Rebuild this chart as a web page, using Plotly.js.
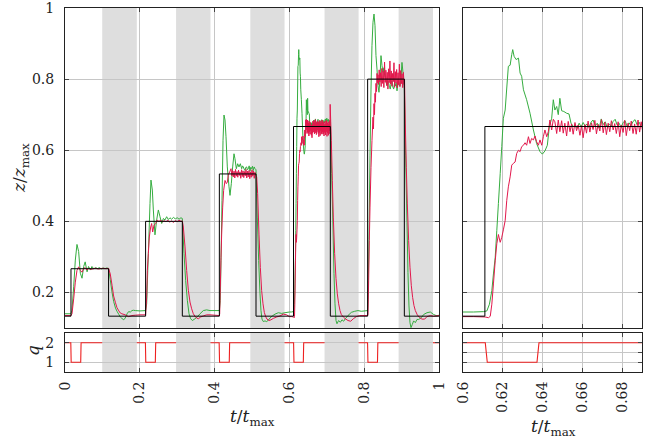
<!DOCTYPE html>
<html><head><meta charset="utf-8">
<script src="https://cdn.plot.ly/plotly-3.0.1.min.js"></script>
<style>html,body{margin:0;padding:0;background:#fff;} #chart{width:654px;height:441px;}</style>
</head><body><div id="chart"></div>
<script>
// ---- data: [t/tmax, z/zmax] ----
const greenPts = [
[0,0.14],[0.016,0.14],[0.0187,0.15],[0.0232,0.216],[0.0276,0.291],[0.032,0.335],[0.0365,0.315],[0.041,0.254],[0.0455,0.24],[0.05,0.273],[0.054,0.286],[0.059,0.258],[0.063,0.273],[0.068,0.263],[0.072,0.273],[0.077,0.266],[0.082,0.27],[0.087,0.267],[0.092,0.27],[0.097,0.266],[0.102,0.269],[0.107,0.267],[0.112,0.269],[0.1165,0.267],
[0.121,0.236],[0.126,0.199],[0.13,0.175],[0.135,0.156],[0.139,0.147],[0.144,0.138],[0.148,0.131],[0.152,0.127],[0.157,0.123],[0.161,0.128],[0.166,0.14],[0.17,0.146],[0.175,0.145],[0.179,0.149],[0.183,0.15],[0.188,0.149],[0.2005,0.148],[0.2155,0.149],
[0.2184,0.168],[0.2228,0.309],[0.2273,0.45],[0.2299,0.516],[0.2335,0.488],[0.2362,0.432],[0.2406,0.362],[0.2451,0.404],[0.2496,0.432],[0.254,0.413],[0.2585,0.394],[0.263,0.408],[0.2674,0.404],[0.2718,0.413],[0.2763,0.405],[0.2807,0.41],[0.285,0.406],[0.29,0.411],[0.295,0.407],[0.3,0.41],[0.305,0.406],[0.31,0.41],[0.3137,0.408],
[0.3182,0.309],[0.3226,0.234],[0.3271,0.178],[0.3316,0.14],[0.336,0.126],[0.3405,0.121],[0.3476,0.126],[0.3538,0.131],[0.361,0.14],[0.3699,0.149],[0.3788,0.151],[0.3877,0.149],[0.4127,0.149],
[0.4153,0.177],[0.4171,0.29],[0.4198,0.459],[0.4225,0.628],[0.4251,0.699],[0.4278,0.685],[0.4305,0.638],[0.434,0.553],[0.4385,0.497],[0.4412,0.473],[0.4447,0.506],[0.4483,0.553],[0.4519,0.59],[0.4545,0.576],[0.4581,0.548],[0.4617,0.562],[0.4652,0.553],[0.4688,0.562],[0.4724,0.548],[0.4746,0.556],[0.4768,0.553],[0.479,0.547],[0.4813,0.543],[0.4835,0.552],[0.4857,0.553],[0.488,0.545],[0.4902,0.548],[0.4924,0.556],[0.4946,0.541],[0.4968,0.552],[0.4991,0.548],[0.5013,0.555],[0.5035,0.543],[0.5058,0.553],[0.508,0.548],[0.5107,0.545],
[0.5142,0.412],[0.5178,0.29],[0.5214,0.196],[0.524,0.149],[0.5267,0.125],[0.5303,0.118],[0.5347,0.12],[0.5392,0.118],[0.5436,0.122],[0.5481,0.128],[0.5543,0.134],[0.5615,0.139],[0.5704,0.143],[0.5793,0.141],[0.5882,0.143],[0.6,0.145],
[0.6053,0.145],[0.6103,0.146],[0.612,0.148],[0.6133,0.167],[0.6145,0.205],[0.6153,0.252],[0.6162,0.299],[0.617,0.374],[0.6178,0.45],[0.6187,0.534],[0.6195,0.61],[0.6203,0.69],[0.6212,0.713],[0.622,0.775],[0.6228,0.836],[0.6237,0.839],[0.6245,0.869],[0.625,0.883],[0.6257,0.864],[0.6267,0.855],[0.6279,0.859],[0.6287,0.817],[0.6295,0.808],[0.6304,0.77],[0.632,0.742],[0.6337,0.704],[0.6354,0.657],[0.637,0.619],[0.6387,0.596],[0.6399,0.589],[0.6412,0.598],[0.6424,0.614],[0.6434,0.666],[0.6446,0.69],[0.6454,0.742],[0.6462,0.713],[0.6471,0.723],[0.6479,0.70],[0.6487,0.746],[0.6496,0.711],[0.6507,0.709],[0.6521,0.704],[0.6533,0.702],[0.6543,0.676],[0.6554,0.666],
[0.6564,0.672],[0.6574,0.662],[0.6584,0.676],[0.6594,0.665],[0.6604,0.678],[0.6614,0.668],[0.6624,0.674],[0.6634,0.664],[0.6644,0.679],[0.6654,0.685],[0.6665,0.668],[0.6675,0.676],[0.6685,0.662],[0.6695,0.688],[0.6705,0.672],[0.6715,0.68],[0.6725,0.665],[0.6735,0.674],[0.6745,0.668],[0.6755,0.681],[0.6765,0.687],[0.6775,0.671],[0.6785,0.676],[0.6795,0.664],[0.6805,0.678],[0.6815,0.683],[0.6825,0.667],[0.6835,0.677],[0.6845,0.669],[0.6855,0.681],[0.6865,0.686],[0.6875,0.672],[0.6885,0.679],[0.6897,0.666],
[0.692,0.684],[0.694,0.676],[0.696,0.688],[0.698,0.679],[0.7,0.69],[0.702,0.681],[0.704,0.687],[0.706,0.676],[0.708,0.684],[0.7094,0.685],
[0.713,0.534],[0.7165,0.384],[0.7192,0.253],[0.7219,0.168],[0.7246,0.121],[0.7272,0.112],[0.7317,0.121],[0.7362,0.116],[0.7406,0.123],[0.7451,0.119],[0.7495,0.126],[0.7566,0.135],[0.7656,0.144],[0.7745,0.147],[0.7834,0.149],[0.7923,0.147],[0.8092,0.149],
[0.8101,0.18],[0.8128,0.349],[0.8155,0.584],[0.8182,0.772],[0.8208,0.894],[0.8235,0.96],[0.8262,0.983],[0.8289,0.95],[0.8315,0.866],[0.8342,0.828],[0.8369,0.781],[0.8395,0.763],[0.8422,0.80],[0.8449,0.866],[0.8476,0.838],[0.8502,0.819],[0.8529,0.832],[0.8547,0.81],[0.8565,0.805],[0.8588,0.79],[0.861,0.781],[0.8632,0.795],[0.8654,0.79],[0.8676,0.776],[0.8699,0.772],[0.872,0.79],[0.8743,0.795],[0.8765,0.778],[0.8788,0.772],[0.881,0.788],[0.8832,0.781],[0.8855,0.79],[0.8877,0.767],[0.89,0.785],[0.8921,0.795],[0.8944,0.78],[0.8966,0.786],[0.8988,0.81],[0.901,0.847],[0.9037,0.819],[0.9064,0.79],[0.9073,0.78],
[0.9108,0.584],[0.9144,0.396],[0.917,0.256],[0.9197,0.162],[0.9224,0.115],[0.9251,0.101],[0.9286,0.11],[0.9322,0.12],[0.9367,0.115],[0.9411,0.124],[0.9456,0.124],[0.9527,0.129],[0.959,0.138],[0.9679,0.143],[0.9768,0.145],[0.9857,0.138],[0.9946,0.134],[1,0.136]
];
const redPts = [
[0,0.135],[0.016,0.135],[0.0187,0.14],[0.0232,0.182],[0.0276,0.229],[0.032,0.262],[0.0365,0.272],[0.041,0.262],[0.0455,0.257],[0.05,0.267],[0.054,0.27],[0.059,0.263],[0.063,0.268],[0.07,0.265],[0.08,0.268],[0.09,0.266],[0.1,0.268],[0.11,0.267],[0.1165,0.268],
[0.121,0.252],[0.126,0.219],[0.13,0.19],[0.135,0.171],[0.139,0.157],[0.144,0.148],[0.148,0.142],[0.152,0.14],[0.161,0.137],[0.17,0.132],[0.179,0.135],[0.188,0.136],[0.2005,0.137],[0.2155,0.137],
[0.2184,0.187],[0.2202,0.262],[0.2228,0.309],[0.2255,0.356],[0.2291,0.384],[0.2317,0.394],[0.2344,0.37],[0.238,0.389],[0.2424,0.394],[0.2469,0.404],[0.2513,0.399],[0.2558,0.404],[0.26,0.398],[0.265,0.402],[0.27,0.399],[0.275,0.403],[0.28,0.398],[0.285,0.401],[0.29,0.397],[0.295,0.402],[0.3,0.399],[0.305,0.403],[0.31,0.4],[0.3137,0.401],
[0.3164,0.384],[0.3209,0.328],[0.3253,0.262],[0.3298,0.206],[0.3342,0.173],[0.3387,0.154],[0.3431,0.14],[0.3476,0.133],[0.352,0.128],[0.3565,0.126],[0.3627,0.131],[0.3699,0.134],[0.3788,0.137],[0.3877,0.137],[0.4127,0.135],
[0.4136,0.14],[0.4153,0.214],[0.4171,0.298],[0.4189,0.364],[0.4216,0.44],[0.4242,0.487],[0.4278,0.515],[0.4314,0.506],[0.434,0.51],[0.4367,0.53],[0.4403,0.539],[0.4439,0.548],
[0.446,0.528],[0.448,0.543],[0.45,0.525],[0.452,0.541],[0.454,0.522],[0.456,0.546],[0.458,0.527],[0.46,0.54],[0.462,0.524],[0.464,0.544],[0.466,0.529],[0.468,0.539],[0.47,0.521],[0.472,0.545],[0.474,0.526],[0.476,0.542],[0.478,0.523],[0.48,0.54],[0.482,0.528],[0.484,0.546],[0.486,0.522],[0.488,0.541],[0.49,0.525],[0.492,0.543],[0.494,0.52],[0.496,0.539],[0.498,0.524],[0.5,0.545],[0.502,0.527],[0.504,0.541],[0.506,0.521],[0.508,0.538],[0.5107,0.528],
[0.5125,0.525],[0.5151,0.478],[0.5187,0.364],[0.5223,0.27],[0.5258,0.205],[0.5294,0.168],[0.5329,0.144],[0.5365,0.132],[0.5401,0.125],[0.5454,0.121],[0.5508,0.123],[0.557,0.127],[0.5659,0.131],[0.5748,0.134],[0.5838,0.139],[0.5927,0.137],[0.6,0.132],
[0.6053,0.132],[0.6111,0.131],[0.6128,0.129],[0.6137,0.133],[0.6145,0.167],[0.6153,0.224],[0.6162,0.289],[0.617,0.337],[0.6178,0.363],[0.6187,0.341],[0.6195,0.355],[0.6203,0.376],[0.6212,0.402],[0.622,0.459],[0.6228,0.497],[0.6237,0.525],[0.6245,0.558],[0.6253,0.563],[0.6262,0.567],[0.627,0.591],[0.6279,0.6],[0.6287,0.596],[0.6295,0.61],[0.6304,0.614],[0.6312,0.621],[0.632,0.614],[0.6329,0.638],[0.6337,0.619],[0.6345,0.633],[0.6354,0.629],[0.6362,0.64],[0.637,0.624],[0.6379,0.614],[0.6387,0.629],[0.6396,0.614],[0.6404,0.638],[0.6412,0.657],[0.6421,0.638],[0.6429,0.652],[0.6437,0.685],[0.6446,0.657],[0.6454,0.687],[0.6462,0.68],[0.6471,0.647],[0.6479,0.685],[0.6487,0.652],
[0.6496,0.683],[0.6504,0.648],[0.6512,0.676],[0.6521,0.64],[0.6529,0.681],[0.6538,0.652],[0.6546,0.674],[0.6554,0.645],[0.6563,0.678],[0.6571,0.655],[0.6579,0.671],[0.6588,0.642],[0.6596,0.669],[0.6604,0.635],[0.6613,0.672],[0.6621,0.648],[0.6629,0.682],[0.6638,0.651],[0.6646,0.677],[0.6654,0.658],[0.6663,0.684],[0.6671,0.646],[0.6679,0.673],[0.6688,0.654],[0.6696,0.686],[0.6705,0.649],[0.6713,0.679],[0.6721,0.644],[0.673,0.676],[0.6738,0.652],[0.6746,0.683],[0.6755,0.657],[0.6763,0.675],[0.6771,0.647],[0.678,0.68],[0.6788,0.638],[0.6796,0.671],[0.6805,0.65],[0.6813,0.684],[0.6821,0.641],[0.683,0.676],[0.6838,0.655],[0.6846,0.682],[0.6855,0.647],[0.6863,0.674],[0.6871,0.645],[0.688,0.685],[0.6888,0.651],[0.6896,0.68],
[0.6905,0.646],[0.6915,0.678],[0.6925,0.64],[0.6935,0.673],[0.6945,0.65],[0.6955,0.682],[0.6965,0.643],[0.6975,0.675],[0.6985,0.652],[0.6995,0.684],[0.7005,0.639],[0.7015,0.677],[0.7025,0.648],[0.7035,0.68],[0.7045,0.642],[0.7055,0.674],[0.7065,0.655],[0.7075,0.683],[0.7085,0.646],[0.709,0.729],
[0.7105,0.68],[0.7121,0.627],[0.7148,0.515],[0.7174,0.412],[0.721,0.309],[0.7246,0.239],[0.7281,0.196],[0.7317,0.168],[0.7353,0.149],[0.7388,0.138],[0.7442,0.131],[0.7495,0.126],[0.7566,0.121],[0.7638,0.119],[0.7709,0.126],[0.7789,0.132],[0.7878,0.135],[0.8092,0.135],
[0.8101,0.138],[0.8119,0.233],[0.8137,0.346],[0.8155,0.44],[0.8182,0.552],[0.8208,0.627],[0.8235,0.693],[0.8248,0.66],[0.8262,0.731],[0.8275,0.70],[0.8289,0.76],[0.83,0.735],[0.8315,0.788],[0.833,0.765],[0.8342,0.816],[0.8355,0.79],[0.8369,0.812],
[0.8385,0.785],[0.84,0.826],[0.8418,0.792],[0.8436,0.818],[0.8454,0.779],[0.8472,0.83],[0.849,0.788],[0.8508,0.822],[0.8526,0.776],[0.8544,0.848],[0.8562,0.791],[0.858,0.825],[0.8598,0.783],[0.8616,0.819],[0.8634,0.772],[0.8652,0.829],[0.867,0.79],[0.8688,0.851],[0.8706,0.786],[0.8724,0.823],[0.8742,0.78],[0.876,0.816],[0.8778,0.793],[0.8796,0.846],[0.8814,0.777],[0.8832,0.821],[0.885,0.789],[0.8868,0.827],[0.8886,0.775],[0.8904,0.818],[0.8922,0.784],[0.894,0.842],[0.8958,0.779],[0.8976,0.824],[0.8994,0.787],[0.9012,0.815],[0.903,0.776],[0.9048,0.819],[0.9066,0.785],[0.9078,0.80],
[0.9099,0.674],[0.9126,0.552],[0.9153,0.449],[0.9188,0.346],[0.9224,0.271],[0.926,0.219],[0.9295,0.186],[0.9331,0.163],[0.9367,0.149],[0.942,0.137],[0.9474,0.13],[0.9545,0.125],[0.9616,0.125],[0.9679,0.132],[0.9768,0.135],[0.9857,0.133],[1,0.135]
];
// set-point (step reference)
const tSet = [0, 0.016, 0.1165, 0.2155, 0.3137, 0.4127, 0.5107, 0.611, 0.7094, 0.8092, 0.9073, 1];
const zSet = [0.1333, 0.2667, 0.1333, 0.4, 0.1333, 0.5333, 0.1333, 0.6667, 0.1333, 0.8, 0.1333, 0.1333];
// q signal (undefined inside the shaded intervals)
const tQ = [0,0.0155,0.0165,0.042,0.043,0.0995,0.15,0.192,0.215,0.216,0.2415,0.2425,0.297,0.34,0.389,0.4122,0.4132,0.4392,0.4402,0.4955,0.54,0.587,0.6112,0.6122,0.6372,0.6382,0.694,0.74,0.785,0.809,0.81,0.8355,0.8365,0.892,0.94,0.984,1];
const qVal = [2,2,1,1,2,2,null,2,2,1,1,2,2,null,2,2,1,1,2,2,null,2,2,1,1,2,2,null,2,2,1,1,2,2,null,2,2];
// shaded intervals
const bandStart = [0.0995, 0.297, 0.4955, 0.694, 0.892];
const bandEnd   = [0.192, 0.389, 0.587, 0.785, 0.984];
// ticks
const xTickMain = [0, 0.2, 0.4, 0.6, 0.8, 1];
const xTickMainText = ['0', '0.2', '0.4', '0.6', '0.8', '1'];
const xTickZoom = [0.6, 0.62, 0.64, 0.66, 0.68];
const xTickZoomText = ['0.6', '0.62', '0.64', '0.66', '0.68'];
const yTickMain = [0.2, 0.4, 0.6, 0.8, 1];
const yTickMainText = ['0.2', '0.4', '0.6', '0.8', '1'];

const tG = greenPts.map(p => p[0]), zG = greenPts.map(p => p[1]);
const tR = redPts.map(p => p[0]), zR = redPts.map(p => p[1]);

const GREEN = '#35ad3f', RED = '#e2184c', QRED = '#ee2020';
const FONT = 'DejaVu Serif';
const W = 654, H = 441;
const px = v => v / W, py = v => 1 - v / H;

const common = {
  showline: true, mirror: 'ticks', linecolor: '#222', linewidth: 1,
  ticks: 'inside', ticklen: 4, tickwidth: 1, tickcolor: '#444',
  showgrid: true, gridcolor: '#c6c6c6', gridwidth: 1, zeroline: false,
  tickfont: { family: FONT, size: 14, color: '#222' }, fixedrange: true, automargin: false,
  ticklabeloverflow: 'allow'
};
const xdL = [px(65), px(439)], xdR = [px(463), px(642)];
const ydT = [py(328), py(8)], ydB = [py(372), py(333)];

const traces = [];
function addSeries(xa, ya) {
  traces.push({ x: tG, y: zG, xaxis: xa, yaxis: ya, mode: 'lines', line: { color: GREEN, width: 1, simplify: false }, hoverinfo: 'skip' });
  traces.push({ x: tR, y: zR, xaxis: xa, yaxis: ya, mode: 'lines', line: { color: RED, width: 1, simplify: false }, hoverinfo: 'skip' });
  traces.push({ x: tSet, y: zSet, xaxis: xa, yaxis: ya, mode: 'lines', line: { color: '#000', width: 1, shape: 'hv' }, hoverinfo: 'skip' });
}
addSeries('x', 'y');
addSeries('x2', 'y2');
traces.push({ x: tQ, y: qVal, xaxis: 'x3', yaxis: 'y3', mode: 'lines', connectgaps: false, line: { color: QRED, width: 1.1 }, hoverinfo: 'skip' });
traces.push({ x: tQ, y: qVal, xaxis: 'x4', yaxis: 'y4', mode: 'lines', connectgaps: false, line: { color: QRED, width: 1.1 }, hoverinfo: 'skip' });

const shapes = [];
bandStart.forEach((s, i) => {
  ['y', 'y3'].forEach((ya, k) => {
    shapes.push({ type: 'rect', xref: k === 0 ? 'x' : 'x3', yref: ya + ' domain', x0: s, x1: bandEnd[i], y0: 0, y1: 1,
      fillcolor: '#dedede', line: { width: 0 }, layer: 'below' });
  });
});

const titleFont = { family: FONT, size: 17, color: '#222' };
const layout = {
  width: W, height: H, margin: { l: 0, r: 0, t: 0, b: 0 },
  paper_bgcolor: '#fff', plot_bgcolor: '#fff', showlegend: false,
  font: { family: FONT, size: 14, color: '#222' },
  xaxis: Object.assign({}, common, { domain: xdL, anchor: 'y', range: [0, 1], tickvals: xTickMain, showticklabels: false }),
  yaxis: Object.assign({}, common, { domain: ydT, anchor: 'x', range: [0.1, 1], tickvals: yTickMain, ticktext: yTickMainText, ticklabelstandoff: 7 }),
  xaxis2: Object.assign({}, common, { domain: xdR, anchor: 'y2', range: [0.6, 0.69], tickvals: xTickZoom, showticklabels: false }),
  yaxis2: Object.assign({}, common, { domain: ydT, anchor: 'x2', range: [0.1, 1], tickvals: yTickMain, showticklabels: false }),
  xaxis3: Object.assign({}, common, { domain: xdL, anchor: 'y3', range: [0, 1], tickvals: xTickMain, ticktext: xTickMainText, tickangle: -90, ticklabelstandoff: 3 }),
  yaxis3: Object.assign({}, common, { domain: ydB, anchor: 'x3', range: [0.5, 2.5], tickvals: [1, 2], ticktext: ['1', '2'], ticklabelstandoff: 7 }),
  xaxis4: Object.assign({}, common, { domain: xdR, anchor: 'y4', range: [0.6, 0.69], tickvals: xTickZoom, ticktext: xTickZoomText, tickangle: -90, ticklabelstandoff: 3 }),
  yaxis4: Object.assign({}, common, { domain: ydB, anchor: 'x4', range: [0.5, 2.5], tickvals: [1, 1.5, 2], showticklabels: false }),
  shapes: shapes,
  annotations: [
    { text: '<i>z</i>/<i>z</i><sub>max</sub>', xref: 'paper', yref: 'paper', x: px(20), y: py(168), textangle: -90, showarrow: false, font: titleFont, xanchor: 'center', yanchor: 'middle' },
    { text: '<i>q</i>', xref: 'paper', yref: 'paper', x: px(33), y: py(351), textangle: -90, showarrow: false, font: titleFont, xanchor: 'center', yanchor: 'middle' },
    { text: '<i>t</i>/<i>t</i><sub>max</sub>', xref: 'paper', yref: 'paper', x: px(252), y: py(417), showarrow: false, font: titleFont, xanchor: 'center', yanchor: 'middle' },
    { text: '<i>t</i>/<i>t</i><sub>max</sub>', xref: 'paper', yref: 'paper', x: px(553), y: py(427), showarrow: false, font: titleFont, xanchor: 'center', yanchor: 'middle' }
  ]
};
Plotly.newPlot('chart', traces, layout, { staticPlot: true, displayModeBar: false });
</script>
</body></html>
